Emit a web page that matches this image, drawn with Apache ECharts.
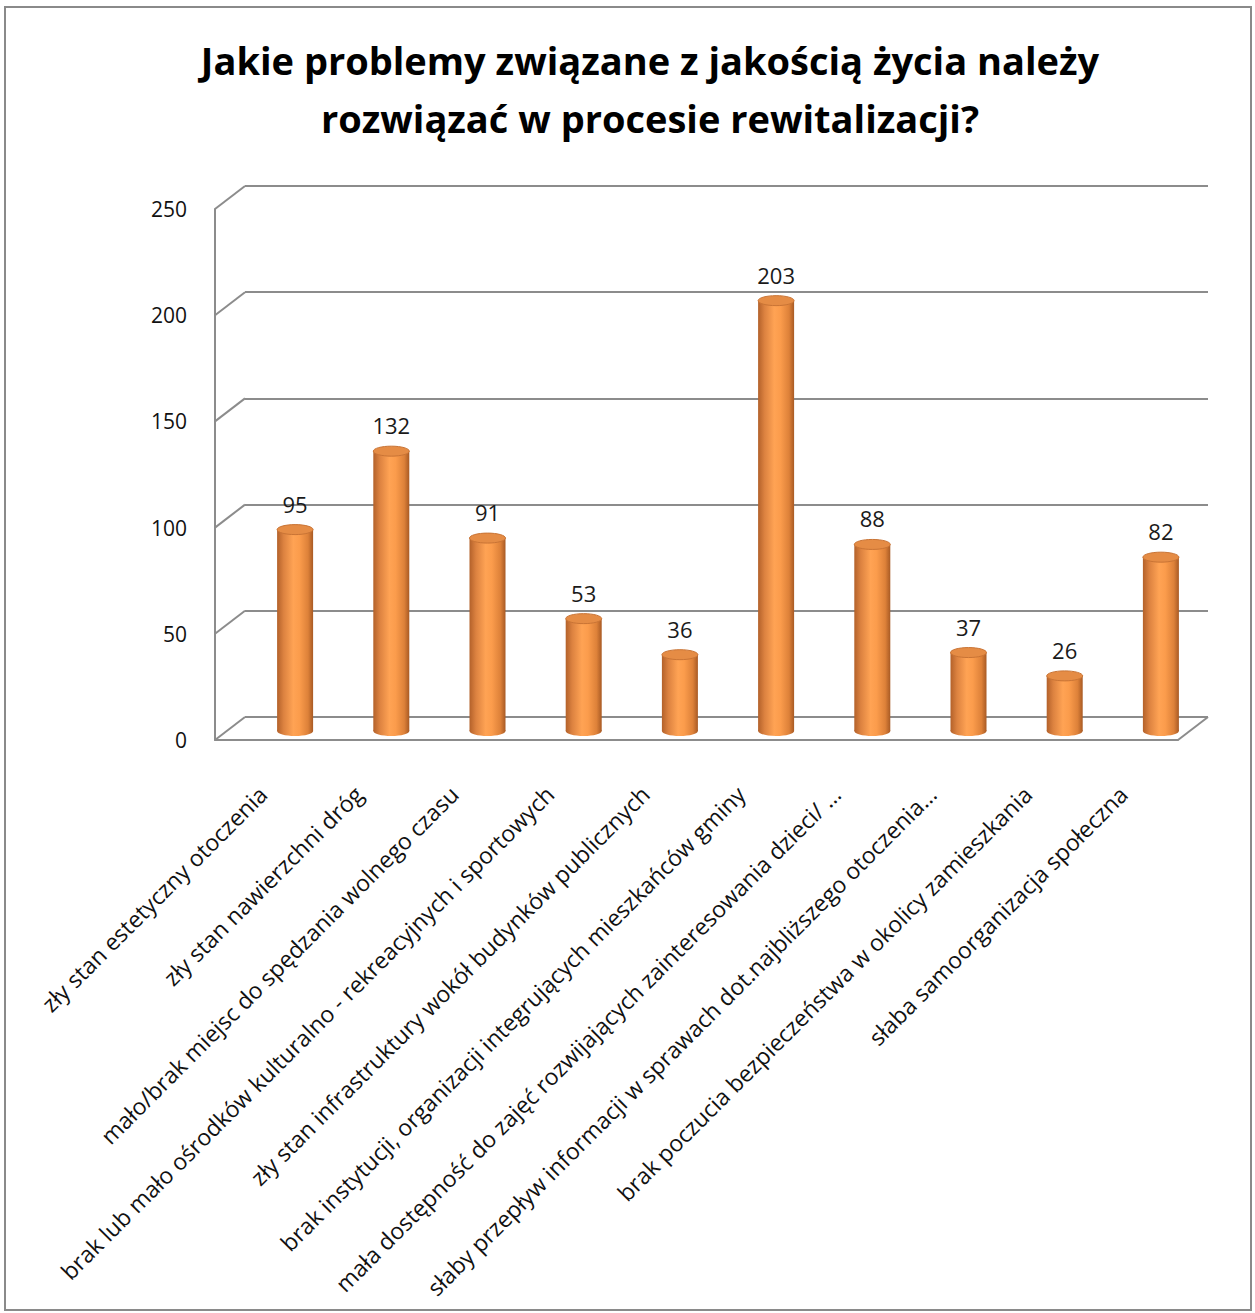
<!DOCTYPE html>
<html><head><meta charset="utf-8">
<script src="https://cdn.jsdelivr.net/npm/echarts@6/dist/echarts.min.js"></script>
<style>html,body{margin:0;padding:0;background:#fff}#c{width:1255px;height:1313px}</style>
</head><body><div id="c"></div>
<script>
const categories = [
  'zły stan estetyczny otoczenia',
  'zły stan nawierzchni dróg',
  'mało/brak miejsc do spędzania wolnego czasu',
  'brak lub mało ośrodków kulturalno - rekreacyjnych i sportowych',
  'zły stan infrastruktury wokół budynków publicznych',
  'brak instytucji, organizacji integrujących mieszkańców gminy',
  'mała dostępność do zajęć rozwijających zainteresowania dzieci/ …',
  'słaby przepływ informacji w sprawach dot.najbliższego otoczenia…',
  'brak poczucia bezpieczeństwa w okolicy zamieszkania',
  'słaba samoorganizacja społeczna'
];
const values = [95, 132, 91, 53, 36, 203, 88, 37, 26, 82];
const yTicks = [0, 50, 100, 150, 200, 250];
const titleText = 'Jakie problemy związane z jakością życia należy\nrozwiązać w procesie rewitalizacji?';

const W = 1255, H = 1313;
const GRID = '#8c8c8c';
const FONT = '"Open Sans", "Noto Sans", sans-serif';
// layout planes (pseudo-3D)
const back  = {left: 245, right: W - 1208, top: 186, bottom: H - 717};
const front = {left: 215, right: W - 1178, top: 209, bottom: H - 740};
const mid   = {left: 247, right: W - 1209, top: 201, bottom: H - 731};
const lab   = {left: 215, right: W - 1171, top: 209, bottom: H - 740};

const chart = echarts.init(document.getElementById('c'), null, {renderer: 'svg'});

function yAx(idx, opts) {
  return Object.assign({type: 'value', gridIndex: idx, min: 0, max: 250, interval: 50,
    axisLine: {show: false}, axisTick: {show: false}, axisLabel: {show: false}, splitLine: {show: false}}, opts || {});
}
function xAx(idx, opts) {
  return Object.assign({type: 'category', gridIndex: idx, data: categories,
    axisLine: {show: false}, axisTick: {show: false}, axisLabel: {show: false}, splitLine: {show: false}}, opts || {});
}

function renderCyl(params, api) {
  const i = api.value(0), v = api.value(1);
  const top = api.coord([i, v]);
  const base = api.coord([i, 0]);
  const w = 36, rx = w / 2, ry = 5, cx = top[0];
  const grad = new echarts.graphic.LinearGradient(0, 0, 1, 0, [
    {offset: 0, color: '#b3612a'},
    {offset: 0.18, color: '#dc8240'},
    {offset: 0.45, color: '#ffa354'},
    {offset: 0.62, color: '#fb9c4c'},
    {offset: 0.86, color: '#dd8139'},
    {offset: 1, color: '#a85a24'}
  ]);
  return {
    type: 'group',
    children: [
      {type: 'ellipse', shape: {cx: cx, cy: base[1], rx: rx, ry: ry}, style: {fill: grad}},
      {type: 'rect', shape: {x: cx - rx, y: top[1], width: w, height: base[1] - top[1]}, style: {fill: grad}},
      {type: 'ellipse', shape: {cx: cx, cy: top[1], rx: rx, ry: ry},
        style: {fill: '#e58c45', stroke: '#c97435', lineWidth: 1}},
      {type: 'text', x: cx, y: top[1] - ry - 10,
        style: {text: String(v), fill: '#1a1a1a', font: '22px ' + FONT, textAlign: 'center', textVerticalAlign: 'bottom'}}
    ]
  };
}

const option = {
  backgroundColor: '#fff',
  animation: false,
  title: {
    text: titleText, left: 645, top: 26, textAlign: 'center',
    textStyle: {fontFamily: FONT, fontWeight: 'bold', fontSize: 38, lineHeight: 58, color: '#000'}
  },
  grid: [
    Object.assign({}, back),
    Object.assign({}, front),
    Object.assign({}, mid),
    Object.assign({}, lab)
  ],
  xAxis: [
    xAx(0),
    xAx(1, {axisLine: {show: true, lineStyle: {color: GRID, width: 2}}}),
    xAx(2),
    xAx(3, {axisLabel: {show: true, interval: 0, rotate: 45, margin: 50,
      fontFamily: FONT, fontSize: 23, color: '#111'}})
  ],
  yAxis: [
    yAx(0, {splitLine: {show: true, lineStyle: {color: GRID, width: 2}}}),
    yAx(1, {axisLine: {show: true, lineStyle: {color: GRID, width: 2}},
      axisLabel: {show: true, margin: 28, fontFamily: FONT, fontSize: 21, color: '#111'}}),
    yAx(2),
    yAx(3)
  ],
  series: [{
    type: 'custom', xAxisIndex: 2, yAxisIndex: 2,
    data: values.map((v, i) => [i, v]),
    renderItem: renderCyl
  }]
};
chart.setOption(option);

// perspective connectors between the front axis plane and the back wall
const g = [];
yTicks.forEach(t => {
  const yb = chart.convertToPixel({yAxisIndex: 0}, t);
  const yf = chart.convertToPixel({yAxisIndex: 1}, t);
  g.push({type: 'line', shape: {x1: front.left, y1: yf, x2: back.left, y2: yb},
    style: {stroke: GRID, lineWidth: 2}, z: 1});
});
const yb0 = chart.convertToPixel({yAxisIndex: 0}, 0);
const yf0 = chart.convertToPixel({yAxisIndex: 1}, 0);
g.push({type: 'line', shape: {x1: W - front.right, y1: yf0, x2: W - back.right, y2: yb0},
  style: {stroke: GRID, lineWidth: 2}, z: 1});
g.push({type: 'rect', shape: {x: 5, y: 7, width: W - 9, height: H - 10},
  style: {fill: 'none', stroke: '#8a8a8a', lineWidth: 2}, z: 0});
chart.setOption({graphic: g});
</script>
</body></html>
